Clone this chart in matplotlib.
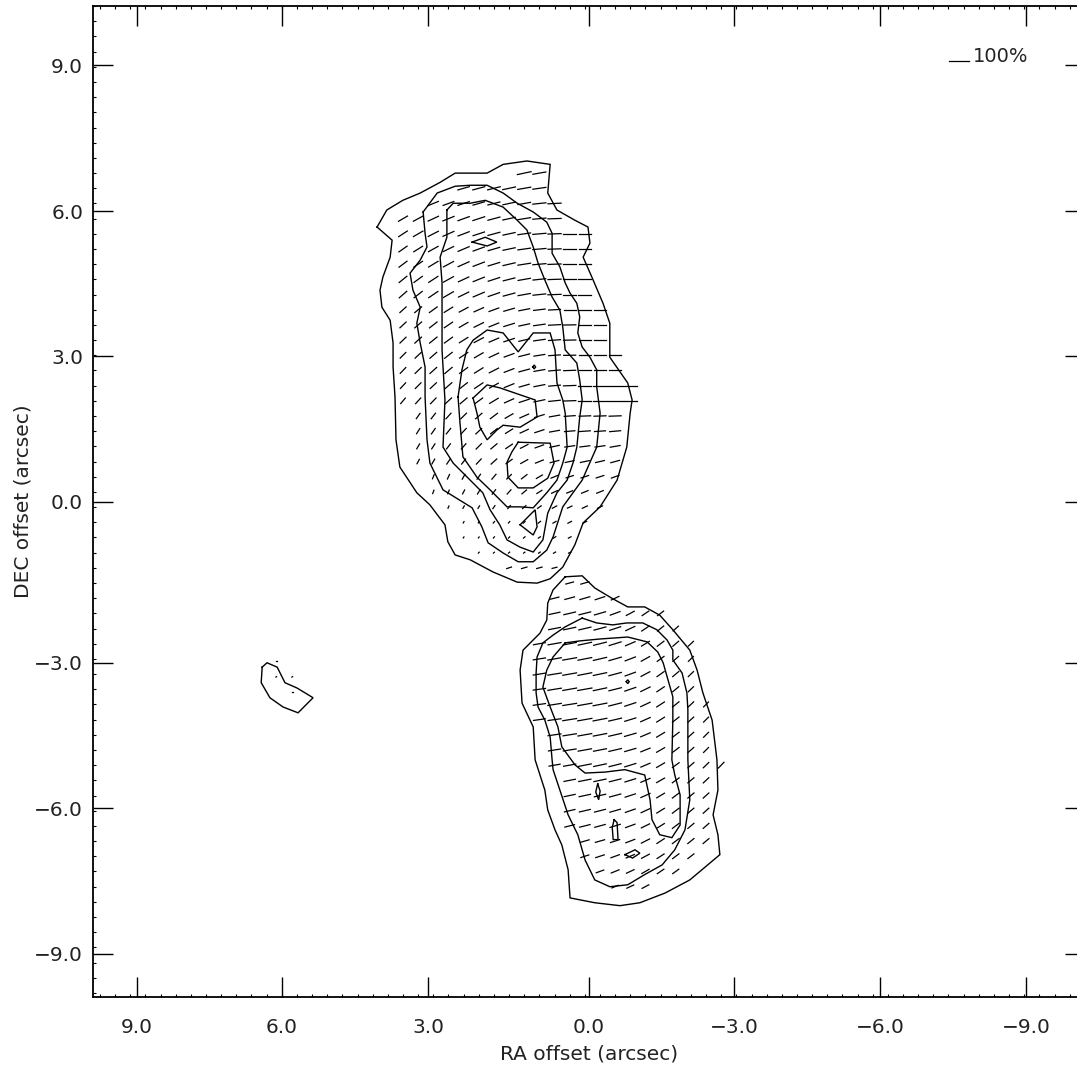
import numpy as np
import matplotlib
matplotlib.use("Agg")
import matplotlib.pyplot as plt
from matplotlib.collections import LineCollection

# ---- map grid (arcsec) : vectors and minor ticks sit on it ----
row0_dec = 6.77
col0_ra = 3.835
cell = 0.3125
full_len = 0.41          # length of a 100% vector on the map

# ---- axis ticks as printed on the original plot ----
xtick_pos = [9.32, 6.33, 3.32, 0.0, -2.99, -6.0, -9.01]
xtick_lab = ["9.0", "6.0", "3.0", "0.0", "\u22123.0", "\u22126.0", "\u22129.0"]
ytick_pos = [8.99, 5.99, 3.0, 0.0, -3.31, -6.30, -9.30]
ytick_lab = ["9.0", "6.0", "3.0", "0.0", "\u22123.0", "\u22126.0", "\u22129.0"]

# ---- polarisation vectors, north lobe (rows 0..26) ----
# position angle (deg, E of N) and polarisation percent, per grid row
north_first_row = 0
north_first_col = [8, 4, 2, 0, 0, 0, 0, 0, 0, 0, 0, 0, 0, 0, 0, 0,
                   1, 1, 1, 1, 2, 2, 3, 4, 4, 5, 7]
north_pa = [
    [102, 100],
    [106, 105, 104, 102, 100, 98],
    [112, 110, 108, 106, 104, 102, 100, 96, 93],
    [120, 118, 115, 112, 110, 108, 105, 102, 99, 95, 92],
    [123, 120, 117, 114, 111, 108, 105, 102, 98, 95, 92, 90, 90],
    [125, 122, 119, 116, 113, 110, 106, 102, 98, 95, 92, 90, 90],
    [127, 124, 121, 118, 114, 111, 107, 103, 99, 95, 92, 90, 90],
    [129, 126, 123, 119, 115, 112, 108, 104, 100, 96, 92, 90, 90],
    [131, 128, 124, 120, 116, 113, 109, 105, 100, 96, 92, 90, 90],
    [132, 130, 126, 122, 118, 114, 110, 106, 101, 97, 93, 90, 90, 90],
    [133, 131, 128, 124, 120, 116, 112, 107, 102, 98, 93, 91, 90, 90],
    [134, 132, 129, 126, 122, 118, 113, 108, 103, 98, 94, 91, 90, 90],
    [135, 133, 131, 128, 124, 120, 115, 110, 104, 99, 94, 91, 90, 90, 90],
    [136, 134, 132, 130, 126, 122, 117, 111, 105, 100, 95, 92, 90, 90, 90],
    [137, 135, 133, 131, 128, 124, 119, 112, 106, 101, 95, 92, 90, 90, 90, 90],
    [140, 138, 136, 133, 130, 126, 121, 114, 108, 102, 96, 92, 90, 90, 90, 90],
    [145, 142, 138, 135, 131, 127, 120, 114, 107, 100, 94, 92, 92, 92],
    [148, 145, 141, 137, 133, 128, 122, 115, 108, 100, 95, 94, 94, 95],
    [150, 147, 143, 139, 135, 130, 124, 117, 110, 102, 98, 97, 98, 100],
    [152, 150, 146, 142, 137, 132, 126, 119, 112, 105, 102, 102, 103, 105],
    [158, 155, 150, 145, 140, 135, 128, 120, 112, 108, 108, 108, 110],
    [160, 157, 152, 148, 143, 138, 130, 122, 115, 112, 112, 112],
    [155, 150, 148, 145, 140, 132, 125, 118, 115, 115, 115],
    [150, 145, 140, 138, 135, 128, 120, 118, 118],
    [145, 140, 138, 135, 130, 125, 120, 118],
    [140, 135, 130, 128, 125, 120, 115],
    [108, 106, 105, 104],
]
north_pol = [
    [70, 66],
    [60, 62, 65, 65, 66, 66],
    [55, 57, 60, 60, 62, 64, 64, 66, 66],
    [52, 55, 57, 60, 60, 62, 62, 64, 64, 66, 66],
    [52, 55, 57, 60, 60, 60, 62, 62, 64, 66, 66, 64, 60],
    [50, 52, 55, 57, 60, 60, 60, 62, 64, 66, 66, 66, 62],
    [50, 52, 55, 57, 60, 60, 60, 62, 64, 66, 66, 66, 62],
    [50, 52, 55, 57, 57, 60, 60, 60, 62, 64, 66, 66, 64],
    [50, 52, 55, 57, 57, 60, 60, 60, 62, 64, 66, 66, 64],
    [42, 45, 48, 50, 50, 52, 52, 55, 55, 58, 60, 62, 62, 58],
    [42, 45, 48, 50, 50, 52, 52, 55, 55, 58, 60, 62, 62, 58],
    [42, 45, 48, 50, 50, 52, 52, 55, 55, 58, 60, 62, 62, 58],
    [40, 42, 45, 48, 50, 50, 52, 52, 55, 55, 58, 60, 62, 62, 60],
    [40, 42, 45, 48, 50, 50, 52, 52, 55, 55, 58, 60, 62, 62, 60],
    [38, 40, 42, 45, 48, 50, 50, 52, 52, 55, 58, 62, 65, 68, 70, 72],
    [36, 38, 40, 42, 45, 48, 50, 50, 52, 55, 58, 62, 65, 68, 70, 72],
    [32, 35, 38, 40, 42, 45, 45, 48, 50, 52, 55, 58, 60, 60],
    [30, 33, 35, 38, 40, 42, 42, 45, 48, 50, 52, 55, 55, 55],
    [28, 30, 32, 35, 38, 40, 40, 42, 45, 48, 50, 50, 50, 50],
    [25, 28, 30, 32, 35, 38, 38, 40, 42, 45, 45, 45, 45, 45],
    [22, 25, 28, 30, 32, 32, 35, 35, 38, 38, 40, 40, 40],
    [18, 20, 22, 25, 28, 28, 30, 30, 32, 32, 35, 35],
    [12, 14, 15, 18, 20, 22, 22, 25, 25, 28, 28],
    [8, 8, 10, 10, 12, 15, 18, 20, 20],
    [6, 6, 8, 8, 10, 12, 15, 15],
    [6, 6, 8, 8, 10, 12, 12],
    [25, 28, 28, 25],
]

# ---- polarisation vectors, south lobe (rows 27..47) ----
south_first_row = 27
south_first_col = [11, 10, 10, 10, 9, 9, 9, 9, 9, 9, 10, 10, 10,
                   11, 11, 11, 11, 12, 12, 13, 14]
south_pa = [
    [105, 106],
    [104, 105, 106, 108, 115],
    [102, 103, 104, 106, 110, 118, 124, 127],
    [101, 102, 103, 105, 108, 115, 124, 129, 132],
    [100, 100, 101, 102, 104, 107, 113, 121, 127, 131, 133],
    [99, 100, 100, 101, 103, 106, 111, 119, 126, 131, 134],
    [99, 99, 100, 101, 102, 105, 110, 118, 125, 130, 134],
    [98, 99, 100, 100, 102, 104, 109, 116, 124, 130, 134],
    [98, 99, 99, 100, 101, 104, 108, 115, 123, 129, 133, 135],
    [98, 98, 99, 100, 101, 103, 107, 114, 122, 128, 132, 135],
    [98, 99, 100, 101, 103, 106, 113, 121, 127, 132, 135],
    [99, 99, 100, 101, 103, 106, 112, 120, 127, 131, 135],
    [100, 100, 101, 102, 104, 107, 113, 120, 126, 131, 134, 136],
    [101, 101, 102, 104, 107, 113, 120, 126, 130, 133],
    [102, 102, 103, 105, 108, 114, 121, 127, 130, 132],
    [103, 103, 104, 106, 109, 115, 122, 127, 130, 132],
    [104, 104, 105, 107, 110, 116, 122, 127, 130, 131],
    [106, 106, 108, 111, 117, 123, 127, 129, 130],
    [108, 108, 110, 113, 118, 123, 127, 128],
    [110, 112, 115, 120, 124, 126],
    [112, 115, 118],
]
south_pol = [
    [40, 42],
    [45, 50, 52, 50, 42],
    [55, 60, 60, 58, 52, 45, 40, 38],
    [60, 62, 62, 62, 58, 50, 45, 40, 36],
    [60, 66, 68, 68, 66, 62, 52, 46, 42, 38, 35],
    [62, 68, 70, 70, 68, 64, 55, 48, 42, 38, 35],
    [62, 68, 70, 70, 68, 64, 55, 50, 44, 40, 36],
    [62, 68, 70, 72, 68, 64, 58, 52, 45, 40, 36],
    [62, 68, 70, 72, 70, 66, 58, 52, 46, 42, 38, 35],
    [60, 66, 70, 72, 70, 66, 58, 52, 46, 42, 38, 35],
    [65, 68, 70, 68, 65, 60, 52, 46, 42, 38, 35],
    [62, 65, 68, 66, 64, 58, 50, 46, 42, 38, 35],
    [56, 62, 65, 64, 62, 58, 50, 46, 42, 40, 38, 40],
    [58, 62, 62, 60, 56, 50, 45, 42, 40, 38],
    [56, 58, 58, 58, 54, 50, 45, 42, 40, 38],
    [54, 56, 56, 55, 52, 48, 45, 42, 40, 38],
    [50, 54, 54, 54, 50, 46, 44, 42, 40, 38],
    [45, 48, 48, 48, 46, 44, 42, 40, 38],
    [42, 45, 45, 45, 44, 42, 40, 38],
    [40, 42, 42, 42, 40, 38],
    [35, 38, 38],
]

# faint points inside the small western blob
blob_dot_ra = [6.45, 6.45, 6.12, 6.12]
blob_dot_dec = [-3.27, -3.60, -3.60, -3.91]
blob_dot_pa = [90, 120, 120, 90]
blob_dot_pol = [4, 4, 4, 4]

# ---- intensity contours (RA, DEC in arcsec) ----
n1_ra = [4.37, 4.17, 3.84, 3.48, 3.07, 2.76, 2.10, 1.77, 1.28, 0.80, 0.85, 0.66, 0.29, 0.02,
         -0.02, 0.12, -0.06, -0.29, -0.43, -0.43, -0.80, -0.89, -0.85, -0.78, -0.58, -0.23,
         0.12, 0.29, 0.54, 0.80, 1.07, 1.48, 1.98, 2.45, 2.76, 2.91, 2.97, 3.28, 3.55, 3.90,
         3.98, 4.00, 4.04, 4.04, 4.10, 4.27, 4.31, 4.25, 4.10, 4.06, 4.37]
n1_dec = [5.66, 6.01, 6.21, 6.36, 6.58, 6.77, 6.77, 6.95, 7.02, 6.95, 6.36, 6.01, 5.80, 5.66,
          5.33, 5.04, 4.63, 4.09, 3.68, 2.98, 2.45, 2.10, 1.83, 1.13, 0.45, -0.10,
          -0.43, -0.88, -1.34, -1.58, -1.67, -1.65, -1.44, -1.19, -1.09, -0.82, -0.47, -0.06,
          0.19, 0.72, 1.28, 2.16, 2.78, 3.27, 3.74, 4.01, 4.36, 4.63, 5.04, 5.39, 5.66]

n2_ra = [3.42, 3.13, 2.76, 2.45, 2.10, 1.77, 1.48, 1.15, 0.87, 0.76, 0.76, 0.60, 0.49, 0.39,
         0.25, 0.19, 0.23, 0.14, -0.02, -0.16, -0.16, -0.23, -0.16, 0.14, 0.54, 0.74, 0.87,
         1.15, 1.46, 1.77, 2.08, 2.21, 2.41, 3.01, 3.28, 3.34, 3.38, 3.38, 3.48, 3.55, 3.48,
         3.63, 3.69, 3.48, 3.34, 3.38, 3.42]
n2_dec = [5.97, 6.36, 6.50, 6.52, 6.52, 6.36, 6.15, 5.97, 5.76, 5.53, 5.12, 4.84, 4.51, 4.30,
          4.09, 3.81, 3.48, 3.19, 2.98, 2.72, 2.37, 1.83, 1.13, 0.45, -0.10, -0.72, -0.99,
          -1.23, -1.23, -1.05, -0.84, -0.51, -0.12, 0.25, 0.80, 1.28, 2.16, 2.78, 3.27, 3.68,
          4.01, 4.36, 4.71, 4.98, 5.25, 5.53, 5.97]

n3_ra = [2.93, 2.80, 2.45, 2.14, 1.77, 1.48, 1.28, 1.15, 1.05, 0.91, 0.76, 0.60, 0.54, 0.49,
         0.25, 0.19, 0.14, 0.19, 0.25, 0.33, 0.45, 0.66, 0.85, 0.95, 1.15, 1.42, 1.69, 1.84,
         2.04, 2.19, 2.45, 2.80, 3.01, 2.97, 3.03, 3.03, 3.03, 3.07, 2.93, 2.93]
n3_dec = [6.01, 6.15, 6.15, 6.21, 6.07, 5.80, 5.60, 5.25, 4.92, 4.57, 4.22, 3.95, 3.60, 3.13,
          2.86, 2.51, 2.10, 1.75, 1.13, 0.80, 0.45, 0.19, -0.23, -0.78, -1.03, -0.93, -0.78,
          -0.47, -0.16, 0.19, 0.45, 0.80, 1.13, 2.10, 3.13, 3.81, 4.51, 5.04, 5.45, 6.01]

n4_ra = [2.70, 2.62, 2.52, 2.39, 2.10, 1.77, 1.46, 1.15, 0.80, 0.70, 0.66, 0.54, 0.49, 0.45,
         0.54, 0.66, 0.87, 1.15, 1.42, 1.69, 2.04, 2.31, 2.60, 2.66, 2.70]
n4_dec = [2.16, 2.72, 3.13, 3.33, 3.54, 3.48, 3.09, 3.48, 3.48, 3.13, 2.45, 2.10, 1.83, 1.13,
          0.80, 0.45, 0.19, -0.12, -0.10, -0.10, 0.25, 0.51, 0.93, 1.63, 2.16]

n5a_ra = [2.39, 2.10, 1.84, 1.11, 1.07, 1.42, 1.77, 1.90, 2.10, 2.25, 2.31, 2.39]
n5a_dec = [2.14, 2.41, 2.35, 2.10, 1.75, 1.54, 1.58, 1.48, 1.28, 1.54, 1.83, 2.14]
n5b_ra = [1.46, 0.80, 0.72, 0.85, 1.15, 1.46, 1.67, 1.69, 1.59, 1.46]
n5b_dec = [1.23, 1.21, 0.80, 0.49, 0.29, 0.29, 0.51, 0.82, 1.03, 1.23]
n5c_ra = [1.42, 1.11, 1.07, 1.15, 1.42]
n5c_dec = [-0.47, -0.16, -0.51, -0.68, -0.47]
n5d_ra = [2.41, 2.14, 1.90, 2.10, 2.41]
n5d_dec = [5.35, 5.45, 5.35, 5.27, 5.35]
n5e_ra = [1.16, 1.13, 1.10, 1.13, 1.16]
n5e_dec = [2.78, 2.82, 2.78, 2.74, 2.78]

s1_ra = [0.49, 0.14, -0.12, -0.47, -0.80, -1.15, -1.46, -1.73, -2.08, -2.23, -2.35, -2.54,
         -2.64, -2.66, -2.56, -2.66, -2.70, -2.45, -2.08, -1.57, -1.05, -0.64, -0.12, 0.39,
         0.43, 0.56, 0.70, 0.85, 0.91, 1.11, 1.15, 1.38, 1.42, 1.36, 1.01, 0.87, 0.85, 0.74, 0.49]
s1_dec = [-1.54, -1.52, -1.77, -1.98, -2.16, -2.16, -2.33, -2.63, -3.05, -3.46, -3.93, -4.49,
          -5.31, -5.93, -6.44, -6.85, -7.26, -7.47, -7.78, -8.05, -8.25, -8.31, -8.25, -8.15,
          -7.57, -7.06, -6.75, -6.34, -5.93, -5.31, -4.63, -4.14, -3.46, -3.05, -2.70, -2.43,
          -2.08, -1.81, -1.54]

s2_ra = [0.14, -0.16, -0.49, -0.78, -1.11, -1.40, -1.61, -1.73, -1.73, -1.92, -2.02, -2.04,
         -2.04, -2.08, -1.98, -1.77, -1.51, -1.15, -0.80, -0.43, -0.12, 0.08, 0.23, 0.43, 0.60,
         0.74, 0.76, 0.80, 0.91, 1.05, 1.09, 1.09, 1.07, 0.95, 0.74, 0.49, 0.14]
s2_dec = [-2.39, -2.49, -2.53, -2.49, -2.49, -2.63, -2.84, -3.05, -3.25, -3.52, -3.93, -4.28,
          -5.31, -6.13, -6.75, -7.16, -7.47, -7.67, -7.88, -7.92, -7.78, -7.37, -6.85, -6.44,
          -5.93, -5.51, -5.31, -4.84, -4.49, -4.22, -3.93, -3.52, -3.19, -2.90, -2.74, -2.57, -2.39]

s3_ra = [0.49, 0.19, -0.23, -0.80, -1.20, -1.42, -1.53, -1.63, -1.73, -1.73, -1.71, -1.77,
         -1.88, -1.88, -1.71, -1.46, -1.30, -1.26, -1.15, -0.74, -0.33, 0.08, 0.29, 0.56, 0.64,
         0.80, 0.95, 0.87, 0.74, 0.49]
s3_dec = [-2.90, -2.86, -2.82, -2.78, -2.88, -3.09, -3.31, -3.66, -4.01, -4.49, -5.31, -5.62,
          -6.03, -6.65, -6.91, -6.85, -6.54, -6.13, -5.62, -5.51, -5.56, -5.58, -5.41, -5.04,
          -4.63, -4.22, -3.81, -3.46, -3.19, -2.90]

s4a_ra = [-0.18, -0.23, -0.20, -0.14, -0.18]
s4a_dec = [-5.80, -5.95, -6.13, -5.97, -5.80]
s4b_ra = [-0.52, -0.58, -0.60, -0.50, -0.48, -0.52]
s4b_dec = [-6.54, -6.60, -6.95, -6.95, -6.70, -6.54]
s4c_ra = [-0.74, -0.95, -1.05, -0.90, -0.74]
s4c_dec = [-7.26, -7.16, -7.23, -7.33, -7.26]
s4d_ra = [-0.77, -0.80, -0.83, -0.80, -0.77]
s4d_dec = [-3.70, -3.66, -3.70, -3.74, -3.70]

w1_ra = [6.74, 6.64, 6.43, 6.27, 6.02, 5.69, 6.00, 6.31, 6.58, 6.76, 6.74]
w1_dec = [-3.40, -3.31, -3.40, -3.72, -3.83, -4.03, -4.34, -4.22, -4.03, -3.72, -3.40]

contours = [(n1_ra, n1_dec), (n2_ra, n2_dec), (n3_ra, n3_dec), (n4_ra, n4_dec),
            (n5a_ra, n5a_dec), (n5b_ra, n5b_dec), (n5c_ra, n5c_dec), (n5d_ra, n5d_dec),
            (n5e_ra, n5e_dec), (s1_ra, s1_dec), (s2_ra, s2_dec), (s3_ra, s3_dec),
            (s4a_ra, s4a_dec), (s4b_ra, s4b_dec), (s4c_ra, s4c_dec), (s4d_ra, s4d_dec),
            (w1_ra, w1_dec)]


def seg(ra, dec, pa, p):
    h = 0.5 * p / 100.0 * full_len
    dx = h * np.sin(np.radians(pa))
    dy = h * np.cos(np.radians(pa))
    return [(ra - dx, dec - dy), (ra + dx, dec + dy)]


def grid_vectors(first_row, first_col, pa, pol):
    out = []
    for i in range(len(pa)):
        dec = row0_dec - (first_row + i) * cell
        for n in range(len(pa[i])):
            ra = col0_ra - (first_col[i] + n) * cell
            out.append(seg(ra, dec, pa[i][n], pol[i][n]))
    return out


plt.rcParams['font.family'] = ['DejaVu Sans']
fig = plt.figure(figsize=(10.77, 10.74), dpi=100)
ax = fig.add_axes([0.0863, 0.0717, 0.9211, 0.9227])

for ra, dec in contours:
    ax.plot(ra, dec, color='k', lw=1.0, solid_joinstyle='miter')

segs = grid_vectors(north_first_row, north_first_col, north_pa, north_pol)
segs += grid_vectors(south_first_row, south_first_col, south_pa, south_pol)
for i in range(len(blob_dot_ra)):
    segs.append(seg(blob_dot_ra[i], blob_dot_dec[i], blob_dot_pa[i], blob_dot_pol[i]))
ax.add_collection(LineCollection(segs, colors='k', linewidths=0.9, capstyle='projecting'))

# 100% reference vector
key_ra, key_dec = -7.63, 9.07
ax.plot([key_ra + full_len / 2, key_ra - full_len / 2], [key_dec, key_dec], color='k', lw=0.9)
ax.text(key_ra - full_len / 2 - 0.08, key_dec - 0.02, "100%", fontsize=14, color='#222222',
        ha='left', va='baseline')

ax.set_xticks(xtick_pos)
ax.set_xticklabels(xtick_lab)
ax.set_yticks(ytick_pos)
ax.set_yticklabels(ytick_lab)
ax.set_xticks(col0_ra - cell * np.arange(-21, 45), minor=True)
ax.set_yticks(row0_dec - cell * np.arange(-11, 55), minor=True)
ax.set_xlim(10.23, -10.23)
ax.set_ylim(-10.19, 10.21)

ax.tick_params(which='major', direction='in', length=14.4, width=1.0,
               top=True, right=True, labelsize=14.5, labelcolor='#222222')
ax.tick_params(which='minor', direction='in', length=2.5, width=0.8, top=True, right=True)
ax.tick_params(axis='x', which='major', pad=15)
ax.tick_params(axis='y', which='major', pad=7)
for s in ax.spines.values():
    s.set_linewidth(1.3)

ax.set_xlabel("RA offset (arcsec)", fontsize=14.5, color='#222222')
ax.set_ylabel("DEC offset (arcsec)", fontsize=14.5, color='#222222')
ax.xaxis.set_label_coords(0.5, -0.048)
ax.yaxis.set_label_coords(-0.061, 0.5)

fig.savefig("out.png", dpi=100)
